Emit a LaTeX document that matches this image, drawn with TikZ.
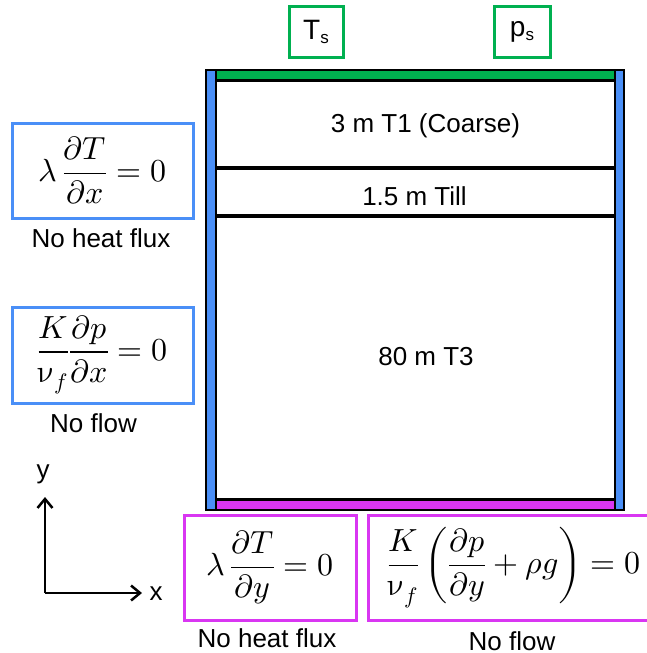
\documentclass[tikz,border=0pt]{standalone}
\usepackage{unicode-math}
\setmathfont{Latin Modern Math}
\newfontfamily\arialfont{Liberation Sans}
\usetikzlibrary{positioning, arrows.meta}
\definecolor{side_blue}{HTML}{4A8FF7}
\definecolor{top_green}{HTML}{00B050}
\definecolor{bottom_magenta}{HTML}{D936F2}

\begin{document}
\begin{tikzpicture}[
    x=1pt, y=-1pt,
    >={Straight Barb[length=9pt, width=15pt]},
    font=\arialfont\fontsize{26}{30}\selectfont,
    bcbox/.style={
        draw=#1,
        line width=3pt,
        inner sep=0pt,
        align=center
    },
    mathbox/.style={bcbox=#1, font=\fontsize{32}{38}\selectfont},
    caption/.style={inner sep=0pt, font=\arialfont\fontsize{26}{30}\selectfont},
    bar/.style={draw=black, line width=2.5pt, fill=#1},
    layer/.style={inner sep=0pt}
]
\useasboundingbox (0,0) rectangle (647,653);
\clip (0,0) rectangle (647,653);

% domain with boundary bars
\draw[bar=side_blue] (206,70) rectangle (216,510);
\draw[bar=side_blue] (615,70) rectangle (624,510);
\draw[bar=top_green] (216,70) rectangle (615,80.5);
\draw[bar=bottom_magenta] (216,499.5) rectangle (615,510);
\draw[line width=3.5pt] (216,168) -- (615,168);
\draw[line width=3.5pt] (216,216) -- (615,216);

\node[layer] (T1) at (425.5,126) {3 m T1 (Coarse)};
\node[layer] (Till) at (414.5,196) {1.5 m Till};
\node[layer] (T3) at (426,357) {80 m T3};

% top boundary values
\node[bcbox=top_green, minimum width=54pt, minimum height=51pt] (Ts) at (316,31.5) {\fontsize{28}{30}\selectfont T\raisebox{-4pt}{\fontsize{17}{20}\selectfont s}};
\node[bcbox=top_green, minimum width=56pt, minimum height=51pt] (ps) at (522,31.5) {\fontsize{28}{30}\selectfont p\raisebox{-4pt}{\fontsize{17}{20}\selectfont s}};

% lateral boundaries
\node[mathbox=side_blue, minimum width=181pt, minimum height=95pt] (LeftHeat) at (102.5,170.5)
    {$\displaystyle\lambda\,\frac{\partial T}{\partial x}=0$};
\node[caption] (LeftHeatText) at (101,238) {No heat flux};
\node[mathbox=side_blue, minimum width=181pt, minimum height=96pt] (LeftFlow) at (102.5,355)
    {$\displaystyle\frac{K}{\upnu_f}\frac{\partial p}{\partial x}=0$};
\node[caption] (LeftFlowText) at (93.5,423) {No flow};

% bottom boundary
\node[mathbox=bottom_magenta, minimum width=172pt, minimum height=105pt] (BottomHeat) at (270,567.5)
    {$\displaystyle\lambda\,\frac{\partial T}{\partial y}=0$};
\node[caption] (BottomHeatText) at (267,638) {No heat flux};
\node[mathbox=bottom_magenta, minimum width=292pt, minimum height=105pt] (BottomFlow) at (514,567.5)
    {$\displaystyle\frac{K}{\upnu_f}\left(\frac{\partial p}{\partial y}+\rho g\right)=0$};
\node[caption] (BottomFlowText) at (512,641) {No flow};

% axes
\coordinate (O) at (45,593);
\coordinate (ytip) at (45,497);
\coordinate (xtip) at (142,593);
\draw[->, line width=2.5pt] (O) -- (ytip);
\draw[->, line width=2.5pt] (O) -- (xtip);
\node[caption] (ylab) at (43,474) {y};
\node[caption] (xlab) at (156,594) {x};

\end{tikzpicture}
\end{document}
